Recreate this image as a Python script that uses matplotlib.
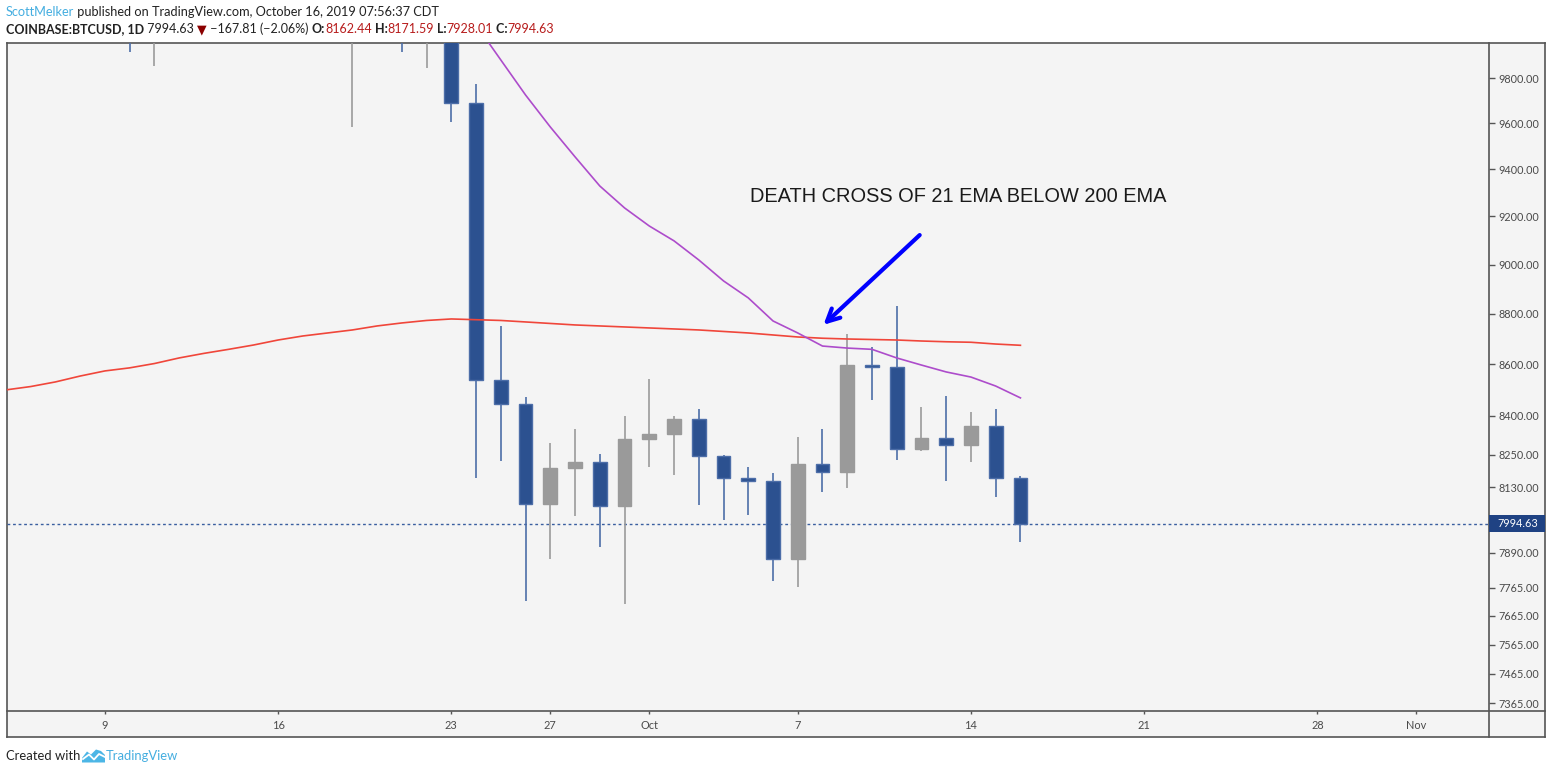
import numpy as np
import pandas as pd
import matplotlib
matplotlib.use("Agg")
import matplotlib.pyplot as plt
import matplotlib.dates as mdates
from matplotlib.lines import Line2D
from matplotlib.patches import Rectangle, Polygon
from matplotlib.ticker import FixedLocator, NullLocator, FuncFormatter

W, H = 1552, 774
FONT = ["Lato", "DejaVu Sans"]

# daily candles, COINBASE:BTCUSD (values above ~9960 are off the top of the chart)
dates = pd.date_range("2019-09-05", "2019-10-16", freq="D")
opens = [10580, 10590, 10360, 10480, 10400, 10320, 10100, 10160, 10410, 10370,
         10300, 10310, 10270, 10190, 10160, 10270, 10170, 9980, 10030, 9689,
         8537, 8443, 8066, 8201, 8224, 8059, 8311, 8330, 8387, 8245,
         8163, 8151, 7866, 8216, 8185, 8596, 8590, 8271, 8314, 8287,
         8360, 8162.44]
highs = [10640, 10920, 10540, 10600, 10480, 10390, 10290, 10450, 10450, 10400,
         10380, 10360, 10290, 10250, 10300, 10290, 10180, 10100, 10060, 9773,
         8751, 8470, 8295, 8349, 8254, 8398, 8542, 8398, 8425, 8250,
         8205, 8182, 8318, 8349, 8719, 8667, 8831, 8433, 8476, 8414,
         8425, 8171.59]
lows = [10460, 10160, 10350, 10310, 10090, 9916, 9853, 10050, 10160, 10240,
        10280, 10070, 10150, 10100, 9586, 10070, 9916, 9848, 9606, 8165,
        8229, 7718, 7868, 8024, 7911, 7708, 8206, 8176, 8065, 8009,
        8027, 7789, 7768, 8113, 8128, 8461, 8232, 8266, 8154, 8225,
        8094, 7928.01]
closes = [10590, 10360, 10480, 10400, 10320, 10100, 10160, 10410, 10370, 10300,
          10310, 10270, 10190, 10160, 10270, 10170, 9980, 10030, 9689, 8537,
          8443, 8066, 8201, 8224, 8059, 8311, 8330, 8387, 8245, 8163,
          8151, 7866, 8216, 8185, 8596, 8590, 8271, 8314, 8287, 8360,
          8162.44, 7994.63]

ema200 = [8499, 8512, 8530, 8553, 8573, 8585, 8602, 8624, 8642, 8658,
          8675, 8695, 8711, 8723, 8735, 8751, 8763, 8773, 8779, 8776,
          8773, 8767, 8761, 8755, 8751, 8747, 8743, 8739, 8735, 8729,
          8723, 8715, 8707, 8702, 8699, 8697, 8695, 8691, 8688, 8686,
          8679, 8674]
ema21 = [10330, 10335, 10340, 10345, 10345, 10325, 10310, 10315, 10320, 10315,
         10310, 10305, 10295, 10285, 10285, 10275, 10250, 10230, 10180, 10042,
         9882, 9725, 9584, 9454, 9329, 9236, 9160, 9098, 9019, 8933,
         8864, 8771, 8723, 8671, 8663, 8658, 8624, 8596, 8569, 8549,
         8514, 8468]

price_ticks = [7365, 7465, 7565, 7665, 7765, 7890, 8130, 8250, 8400,
               8600, 8800, 9000, 9200, 9400, 9600, 9800]
date_ticks = ["2019-09-09", "2019-09-16", "2019-09-23", "2019-09-27", "2019-10-01",
              "2019-10-07", "2019-10-14", "2019-10-21", "2019-10-28", "2019-11-01"]
date_labels = ["9", "16", "23", "27", "Oct", "7", "14", "21", "28", "Nov"]

note = "DEATH CROSS OF 21 EMA BELOW 200 EMA"

BLUE = "#2c5190"
BLUE_EDGE = "#4d6ea8"
GREY = "#9a9a9a"
BG = "#f4f4f4"
FRAME = "#555555"

fig = plt.figure(figsize=(W / 100, H / 100), dpi=100, facecolor="white")


def fx(px):
    return px / W


def fy(py):
    return 1 - py / H


# frame around chart + scales
frame = fig.add_axes([fx(7), fy(737.3), fx(1545 - 7), (737.3 - 43) / H], facecolor=BG, zorder=0)
frame.set_xticks([])
frame.set_yticks([])
for s in frame.spines.values():
    s.set_color(FRAME)
    s.set_linewidth(1.2)

ax = fig.add_axes([fx(7), fy(710.7), fx(1489 - 7), (710.7 - 43) / H], zorder=1)
ax.patch.set_alpha(0)
for s in ax.spines.values():
    s.set_visible(False)
fig.add_artist(Line2D([fx(1489), fx(1489)], [fy(43), fy(737.3)], color=FRAME, lw=1.2, zorder=2))
fig.add_artist(Line2D([fx(7), fx(1545)], [fy(710.7), fy(710.7)], color=FRAME, lw=1.2, zorder=2))

x = mdates.date2num(dates)
o = np.array(opens, float)
c = np.array(closes, float)
hi = np.array(highs, float)
lo = np.array(lows, float)
down = c < o

ax.vlines(x[down], lo[down], hi[down], color=BLUE_EDGE, lw=1.2, zorder=2)
ax.vlines(x[~down], lo[~down], hi[~down], color=GREY, lw=1.2, zorder=2)
ax.bar(x[down], np.abs(c - o)[down], bottom=np.minimum(o, c)[down], width=0.56,
       color=BLUE, edgecolor=BLUE_EDGE, lw=1, zorder=3)
ax.bar(x[~down], np.abs(c - o)[~down], bottom=np.minimum(o, c)[~down], width=0.56,
       color=GREY, edgecolor=GREY, lw=1, zorder=3)

ax.plot(x, ema200, color="#f0463a", lw=1.2, zorder=4)
ax.plot(x, ema21, color="#ad4ccb", lw=1.2, zorder=4)

last = closes[-1]
ax.axhline(last, color="#3a5fa0", lw=1, ls=(0, (2, 2)), zorder=1.5)

ax.set_yscale("log")
ax.set_ylim(7340, 9959)
ax.set_xlim(mdates.date2num(pd.Timestamp("2019-09-05 01:00")),
            mdates.date2num(pd.Timestamp("2019-11-03 22:30")))

ax.yaxis.tick_right()
ax.yaxis.set_major_locator(FixedLocator(price_ticks))
ax.yaxis.set_minor_locator(NullLocator())
ax.yaxis.set_major_formatter(FuncFormatter(lambda v, p: f"{v:.2f}"))
ax.set_xticks(mdates.date2num(pd.to_datetime(date_ticks)))
ax.set_xticklabels(date_labels)
ax.xaxis.set_minor_locator(NullLocator())
ax.tick_params(axis="y", direction="out", length=4, width=1, color=FRAME, pad=3,
               labelsize=7.8, labelcolor="#4a4a4a")
ax.tick_params(axis="x", direction="out", length=2.5, width=1, color=FRAME, pad=4.5,
               labelsize=7.9, labelcolor="#4a4a4a")
for lab in ax.get_xticklabels() + ax.get_yticklabels():
    lab.set_family(FONT)

# annotation
ax.text(mdates.date2num(pd.Timestamp("2019-10-05 02:00")), 9284, note,
        family=["Liberation Sans", "DejaVu Sans"], fontsize=14.4, color="#1a1a1a",
        va="center", ha="left", zorder=5)
ax.annotate("", xy=(mdates.date2num(pd.Timestamp("2019-10-07 23:00")), 8748),
            xytext=(mdates.date2num(pd.Timestamp("2019-10-12 00:15")), 9130),
            arrowprops=dict(arrowstyle="->,head_length=0.9,head_width=0.45",
                            color="#0000ff", lw=3), zorder=5)

# last price label on the price scale
fig.canvas.draw()
ly = ax.transData.transform((x[-1], last))[1]
fig.add_artist(Rectangle((fx(1489), (ly - 8.5) / H), fx(56), 17 / H,
                         transform=fig.transFigure, facecolor="#1f4283",
                         edgecolor="none", zorder=3))
fig.text(fx(1497), ly / H, f"{last:.2f}", color="white", fontsize=7.8,
         family=FONT, va="center", ha="left", zorder=4)

# header and footer text
r = fig.canvas.get_renderer()


def width(txt, size, weight):
    t1 = fig.text(0, 0, "|" + txt + "|", fontsize=size, fontweight=weight, family=FONT)
    t2 = fig.text(0, 0, "||", fontsize=size, fontweight=weight, family=FONT)
    wpx = t1.get_window_extent(r).width - t2.get_window_extent(r).width
    t1.remove()
    t2.remove()
    return wpx


def segments(x_px, y_px, parts, size):
    for txt, color, weight in parts:
        fig.text(fx(x_px), fy(y_px), txt, color=color, fontsize=size,
                 fontweight=weight, family=FONT, va="center", ha="left")
        x_px += width(txt, size, weight)
    return x_px


DARK = "#222222"
RED = "#b71c1c"
segments(6, 12, [("ScottMelker", "#45aee0", "normal"),
                 (" published on TradingView.com, October 16, 2019 07:56:37 CDT", DARK, "normal")], 9.2)
segments(6, 29, [("COINBASE:BTCUSD, 1D", DARK, "bold"),
                 (" 7994.63 ", DARK, "normal"),
                 ("\u25bc", "#8b0000", "normal"),
                 (" \u2212167.81 (\u22122.06%) ", DARK, "normal"),
                 ("O:", DARK, "bold"), ("8162.44", RED, "normal"),
                 (" H:", DARK, "bold"), ("8171.59", RED, "normal"),
                 (" L:", DARK, "bold"), ("7928.01", RED, "normal"),
                 (" C:", DARK, "bold"), ("7994.63", RED, "normal")], 9.0)

xe = segments(6, 756, [("Created with ", DARK, "normal")], 9.4)
logo = [(82, 762.5), (82, 758), (87, 751.5), (91, 754.5), (96, 749.5),
        (101, 751), (105, 755), (105, 762.5)]
fig.add_artist(Polygon([(fx(a), fy(b)) for a, b in logo], closed=True,
                       transform=fig.transFigure, facecolor="#4cb6e6", edgecolor="none"))
fig.add_artist(Line2D([fx(83), fx(89), fx(94), fx(99), fx(105)],
                      [fy(759), fy(754.5), fy(759.5), fy(754), fy(757)],
                      color="white", lw=1.3))
segments(106, 756, [("TradingView", "#45aee0", "normal")], 9.4)

fig.savefig("out.png", dpi=100, facecolor="white")
